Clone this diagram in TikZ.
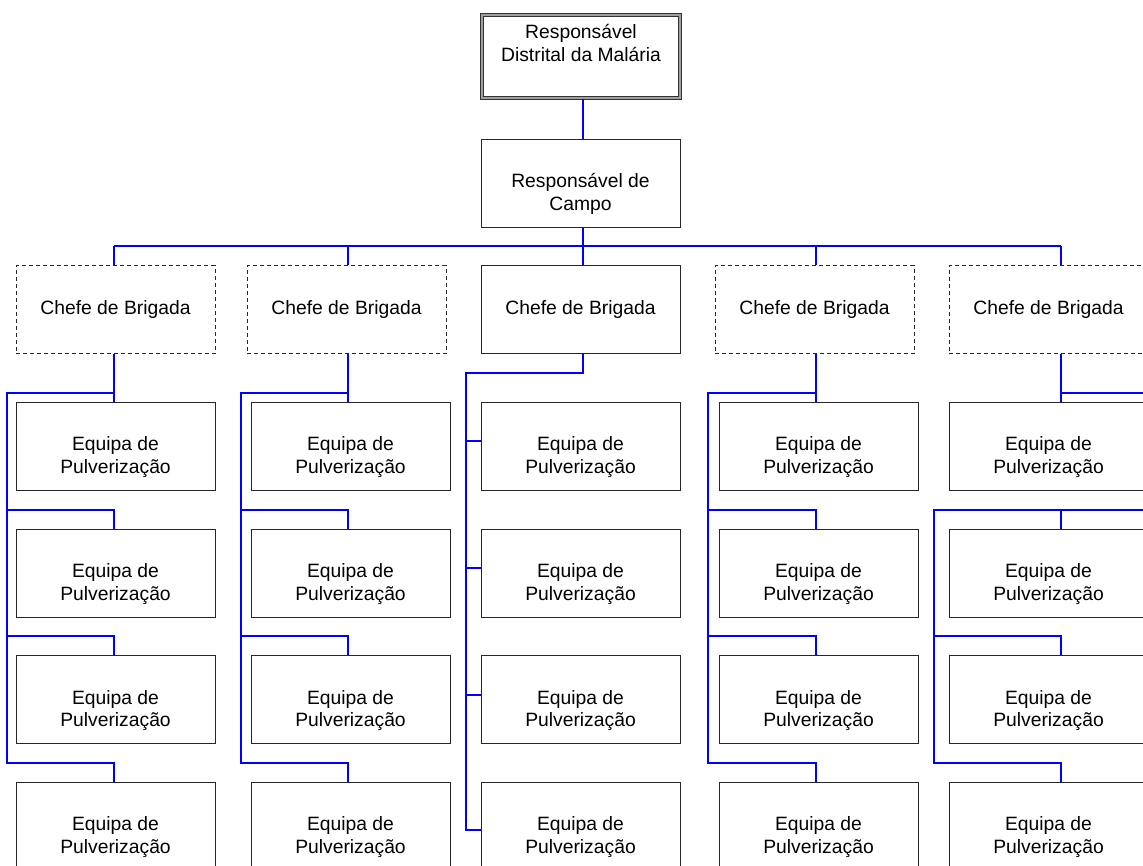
\documentclass[tikz,border=0pt]{standalone}
\usepackage{fontspec}
\setmainfont{Liberation Sans}
\begin{document}
\begin{tikzpicture}[x=1pt,y=-1pt,
  box/.style={draw=black!85, line width=1pt, minimum width=199pt, minimum height=88pt, inner sep=0pt, align=center, font=\fontsize{19.3}{22.5}\selectfont, fill=white},
  dbox/.style={box, dash pattern=on 4pt off 3pt},
  topbox/.style={box, draw=black!80, line width=1pt, double=gray!75, double distance=1.8pt, minimum width=198pt, minimum height=83pt},
  conn/.style={draw=blue, line width=1.15pt},
]
\useasboundingbox (0,0) rectangle (1143,865);
\clip (0,0) rectangle (1143,865);

% top levels
\node[topbox] (top) at (581,56.5) {\strut Responsável\\\strut Distrital da Malária\\\strut};
\node[box] (camp) at (580.5,183) {\strut\\\strut Responsável de\\\strut Campo};

% brigade chiefs
\node[dbox] (ch1) at (115.5,309.5) {\strut Chefe de Brigada};
\node[dbox] (ch2) at (346.5,309.5) {\strut Chefe de Brigada};
\node[box]  (ch3) at (580.5,309.5) {\strut Chefe de Brigada};
\node[dbox] (ch4) at (814.5,309.5) {\strut Chefe de Brigada};
\node[dbox] (ch5) at (1048.5,309.5) {\strut Chefe de Brigada};

% teams
\foreach \c/\x in {1/115.5, 2/350.5, 3/580.5, 4/818.5, 5/1048.5}{
  \foreach \r/\y in {1/446, 2/573, 3/699.5, 4/826}{
    \node[box] (e\c\r) at (\x,\y) {\strut\\\strut Equipa de\\\strut Pulverização};
  }
}

% bus x positions
\coordinate (bx1) at (114,0);
\coordinate (bx2) at (348,0);
\coordinate (bx3) at (583,0);
\coordinate (bx4) at (816,0);
\coordinate (bx5) at (1061,0);
\coordinate (bus) at (0,246);

\draw[conn] (top.south -| bx3) -- (camp.north -| bx3);
\draw[conn] (camp.south -| bx3) -- (ch3.north -| bx3);
\draw[conn] (bx1 |- bus) -- (bx5 |- bus);
\foreach \i in {1,2,4,5}{
  \draw[conn] (bx\i |- bus) -- (ch\i.north -| bx\i);
}

% left-comb columns (1, 2, 4)
\foreach \i/\rx in {1/7, 2/241, 4/708}{
  \draw[conn] (ch\i.south -| bx\i) -- (e\i1.north -| bx\i);
  \coordinate (r\i a) at (\rx,393);
  \coordinate (r\i b) at (\rx,510);
  \coordinate (r\i c) at (\rx,636);
  \coordinate (r\i d) at (\rx,763);
  \draw[conn] (bx\i |- r\i a) -- (r\i a) -- (r\i d) -| (e\i4.north -| bx\i);
  \draw[conn] (r\i b) -| (e\i2.north -| bx\i);
  \draw[conn] (r\i c) -| (e\i3.north -| bx\i);
}

% column 3 (side branches)
\coordinate (k3) at (583,373);
\coordinate (r3a) at (466,373);
\coordinate (r3b) at (466,830);
\draw[conn] (ch3.south -| bx3) -- (k3) -- (r3a) -- (r3b) -- (e34.west |- r3b);
\foreach \r/\y in {1/441, 2/568, 3/695}{
  \draw[conn] (466,\y) -- (e3\r.west |- 0,\y);
}

% column 5
\coordinate (r5a) at (1150,393);
\coordinate (r5b) at (1150,510);
\coordinate (r5l) at (934,510);
\coordinate (r5c) at (934,636);
\coordinate (r5d) at (934,763);
\draw[conn] (ch5.south -| bx5) -- (e51.north -| bx5);
\draw[conn] (bx5 |- r5a) -- (r5a);
\draw[conn] (r5b) -- (r5l) -- (r5d) -| (e54.north -| bx5);
\draw[conn] (r5c) -| (e53.north -| bx5);
\draw[conn] (bx5 |- r5b) -- (e52.north -| bx5);
\end{tikzpicture}
\end{document}
